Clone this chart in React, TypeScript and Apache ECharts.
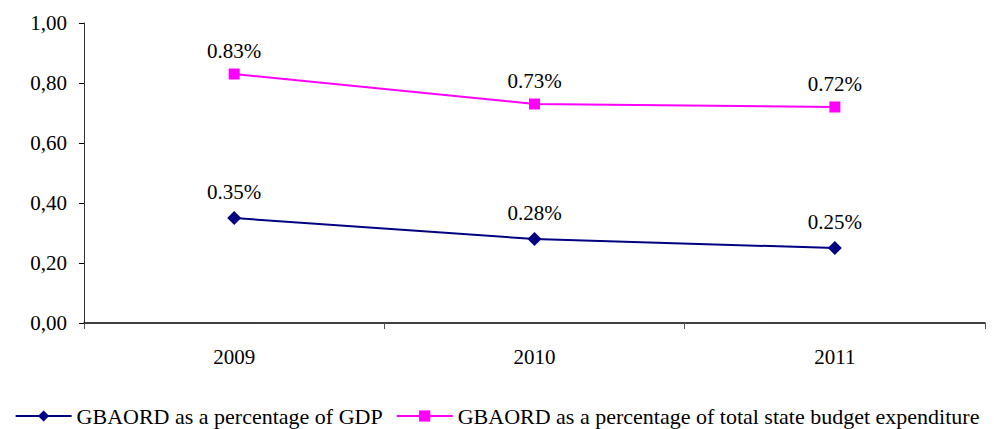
import React, { useEffect, useRef } from "react";
import * as echarts from "echarts";

const categories = ["2009", "2010", "2011"];
const gdpShare = [0.35, 0.28, 0.25];
const budgetShare = [0.83, 0.73, 0.72];
const seriesNames = [
  "GBAORD as a percentage of GDP",
  "GBAORD as a percentage of total state budget expenditure",
];

const FONT = "Liberation Serif";

export default function App() {
  const ref = useRef<HTMLDivElement>(null);
  useEffect(() => {
    if (!ref.current) return;
    const chart = echarts.init(ref.current, undefined, { renderer: "svg" });
    const labelCfg = (distance: number) => ({
      show: true,
      position: "top",
      distance,
      color: "#000",
      fontFamily: FONT,
      fontSize: 21,
      formatter: (p: any) => Number(p.value).toFixed(2) + "%",
    });
    chart.setOption({
      animation: false,
      backgroundColor: "#fff",
      textStyle: { fontFamily: FONT },
      grid: { left: 84, right: 9, top: 23, bottom: 106, containLabel: false },
      legend: {
        bottom: -3,
        left: "center",
        itemWidth: 56,
        itemHeight: 14,
        itemGap: 13,
        textStyle: { fontFamily: FONT, fontSize: 22, color: "#000" },
        data: seriesNames,
      },
      xAxis: {
        type: "category",
        data: categories,
        boundaryGap: true,
        axisLine: { lineStyle: { color: "#000", width: 1.5 } },
        axisTick: { show: true, length: 6, alignWithLabel: false, lineStyle: { color: "#555" } },
        axisLabel: { color: "#000", fontFamily: FONT, fontSize: 21, margin: 23 },
        splitLine: { show: false },
      },
      yAxis: {
        type: "value",
        min: 0,
        max: 1,
        interval: 0.2,
        axisLine: { show: true, lineStyle: { color: "#333", width: 1 } },
        axisTick: { show: true, length: 5, inside: false, lineStyle: { color: "#000" } },
        axisLabel: {
          color: "#000",
          fontFamily: FONT,
          fontSize: 21,
          margin: 17,
          formatter: (v: number) => v.toFixed(2).replace(".", ","),
        },
        splitLine: { show: false },
      },
      series: [
        {
          name: seriesNames[0],
          type: "line",
          data: gdpShare,
          symbol: "diamond",
          symbolSize: 14,
          itemStyle: { color: "#000080" },
          lineStyle: { color: "#000080", width: 2 },
          label: labelCfg(9),
        },
        {
          name: seriesNames[1],
          type: "line",
          data: budgetShare,
          symbol: "rect",
          symbolSize: 11,
          itemStyle: { color: "#FF00FF" },
          lineStyle: { color: "#FF00FF", width: 2 },
          label: labelCfg(7),
        },
      ],
    });
    return () => chart.dispose();
  }, []);
  return (
    <div
      ref={ref}
      style={{ position: "fixed", left: 0, top: 0, width: 994, height: 429, background: "#fff" }}
    />
  );
}
